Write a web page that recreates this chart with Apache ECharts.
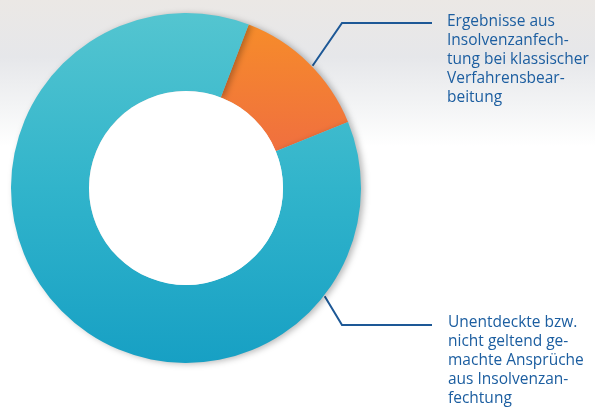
<!DOCTYPE html>
<html>
<head>
<meta charset="utf-8">
<script src="https://cdn.jsdelivr.net/npm/echarts@6/dist/echarts.min.js"></script>
<style>
  html, body { margin: 0; padding: 0; background: #fff; }
  #main { width: 595px; height: 407px; }
</style>
</head>
<body>
<div id="main"></div>
<script>
  // data
  var categories = [
    'Ergebnisse aus Insolvenzanfechtung bei klassischer Verfahrensbearbeitung',
    'Unentdeckte bzw. nicht geltend gemachte Ansprüche aus Insolvenzanfechtung'
  ]
  var values = [13, 87]
  var labelLines = [
    ['Ergebnisse aus', 'Insolvenzanfech-', 'tung bei klassischer', 'Verfahrensbear-', 'beitung'],
    ['Unentdeckte bzw.', 'nicht geltend ge-', 'machte Ansprüche', 'aus Insolvenzan-', 'fechtung']
  ]

  var cx = 186, cy = 188, rOuter = 175, rInner = 97
  var lineColor = '#1d5896'

  // point on the outer edge, angle in degrees clockwise from 12 o'clock
  function ringPoint (deg) {
    var a = deg * Math.PI / 180
    return [cx + (rOuter + 1) * Math.sin(a), cy - (rOuter + 1) * Math.cos(a)]
  }

  var myChart = echarts.init(document.getElementById('main'))

  var option = {
    animation: false,
    backgroundColor: {
      type: 'linear', x: 0, y: 0, x2: 0, y2: 1,
      colorStops: [
        { offset: 0, color: '#ebe8e5' },
        { offset: 0.14, color: '#e6e7ea' },
        { offset: 0.26, color: '#f3f4f5' },
        { offset: 0.36, color: '#ffffff' },
        { offset: 1, color: '#ffffff' }
      ]
    },
    series: [
      {
        name: 'anteil',
        type: 'pie',
        center: [cx, cy],
        radius: [rInner, rOuter],
        startAngle: 69,
        clockwise: true,
        silent: true,
        avoidLabelOverlap: false,
        data: categories.map(function (name, i) {
          return {
            name: name,
            value: values[i],
            itemStyle: {
              color: i === 0 ? {
                type: 'linear', x: 0, y: 0, x2: 0, y2: 1,
                colorStops: [{ offset: 0, color: '#f68c2a' }, { offset: 1, color: '#f06f3f' }]
              } : {
                type: 'linear', x: 0, y: 0, x2: 0, y2: 1,
                colorStops: [
                  { offset: 0, color: '#54c5d0' },
                  { offset: 0.5, color: '#31b4cb' },
                  { offset: 1, color: '#17a0c4' }
                ]
              }
            }
          }
        }),
        itemStyle: {
          shadowBlur: 6,
          shadowOffsetX: 3,
          shadowOffsetY: 1,
          shadowColor: 'rgba(0, 0, 0, 0.28)'
        },
        label: {
          show: true,
          formatter: function (p) { return labelLines[p.dataIndex].join('\n') },
          fontFamily: 'Open Sans',
          fontSize: 15.5,
          lineHeight: 19,
          color: '#1c5ea0',
          align: 'left',
          overflow: 'none',
          width: 160
        },
        labelLine: {
          show: true,
          smooth: false,
          lineStyle: { color: lineColor, width: 2 }
        },
        labelLayout: function (p) {
          if (p.dataIndex === 0) {
            return {
              x: 447, y: 12, align: 'left', verticalAlign: 'top',
              labelLinePoints: [ringPoint(46), [342, 23], [432, 23]]
            }
          }
          return {
            x: 448, y: 313, align: 'left', verticalAlign: 'top',
            labelLinePoints: [ringPoint(128), [342, 325], [432, 325]]
          }
        }
      },
      {
        // white hole on top, hides the ring shadow inside it
        type: 'pie',
        center: [cx, cy],
        radius: [0, rInner],
        silent: true,
        label: { show: false },
        labelLine: { show: false },
        data: [{ value: 1, itemStyle: { color: '#ffffff' } }]
      }
    ]
  }

  myChart.setOption(option)
</script>
</body>
</html>
